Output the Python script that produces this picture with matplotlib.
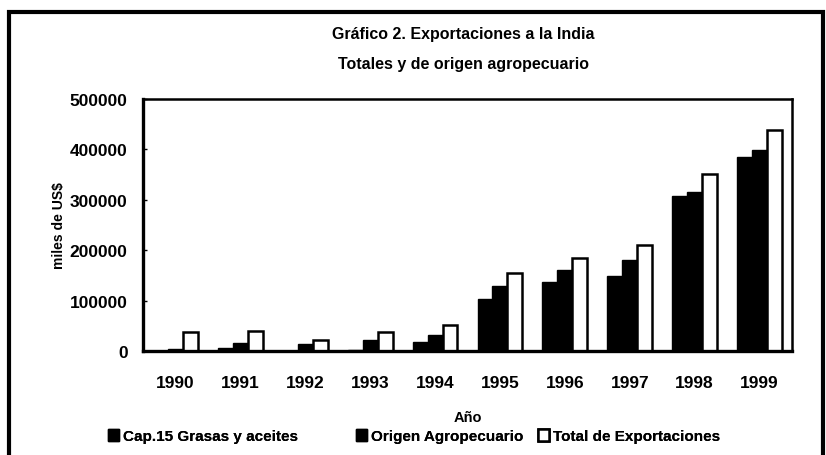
import numpy as np
import matplotlib.pyplot as plt
from matplotlib.patches import Rectangle, Patch

plt.rcParams['font.family'] = ['Liberation Sans', 'DejaVu Sans']
plt.rcParams['font.weight'] = 'bold'

years = ['1990', '1991', '1992', '1993', '1994', '1995', '1996', '1997', '1998', '1999']
grasas = [500, 5000, 500, 2000, 18000, 104000, 136000, 148000, 307000, 384000]
agro = [4000, 15000, 13000, 22000, 31000, 128000, 161000, 181000, 316000, 399000]
total = [38000, 40000, 21000, 38000, 52000, 155000, 185000, 211000, 351000, 438000]
series_names = ['Cap.15 Grasas y aceites', 'Origen Agropecuario', 'Total de Exportaciones']

fig = plt.figure(figsize=(8.26, 4.56), dpi=100)
ax = fig.add_axes([143 / 826, 1 - 352 / 456, (792 - 143) / 826, (352 - 100) / 456])

x = np.arange(len(years))
w = 0.23
ax.bar(x - w, grasas, w, color='black', edgecolor='black', linewidth=1.0)
ax.bar(x, agro, w, color='black', edgecolor='black', linewidth=1.0)
ax.bar(x + w, total, w, color='white', edgecolor='black', linewidth=1.8)

ax.set_xlim(-0.5, 9.5)
ax.set_ylim(0, 500000)
ax.set_yticks(range(0, 500001, 100000))
ax.set_yticklabels([str(v) for v in range(0, 500001, 100000)])
ax.set_xticks(x)
ax.set_xticklabels(years)
ax.tick_params(axis='x', length=0, pad=17, labelsize=12.5)
ax.tick_params(axis='y', length=3, direction='in', pad=11, labelsize=12.5, width=1)

for side in ['left', 'bottom']:
    ax.spines[side].set_linewidth(2.4)
for side in ['top', 'right']:
    ax.spines[side].set_linewidth(1.8)

ax.set_ylabel('miles de US$', fontsize=10, fontweight='bold', labelpad=3)
ax.set_xlabel('Año', fontsize=10.5, fontweight='bold', labelpad=15)

fig.text(463 / 826, 1 - 35 / 456, 'Gráfico 2. Exportaciones a la India',
         ha='center', va='center', fontsize=11.5, fontweight='bold')
fig.text(463 / 826, 1 - 65 / 456, 'Totales y de origen agropecuario',
         ha='center', va='center', fontsize=11.5, fontweight='bold')

# legend entries placed one by one
leg_x = [108, 356, 538]
styles = [dict(facecolor='black', edgecolor='black'),
          dict(facecolor='black', edgecolor='black'),
          dict(facecolor='white', edgecolor='black', linewidth=1.8)]
for name, lx, st in zip(series_names, leg_x, styles):
    lg = fig.legend(handles=[Patch(**st, label=name)], loc='center left',
                    bbox_to_anchor=(lx / 826, 1 - 437 / 456), frameon=False,
                    borderpad=0, borderaxespad=0, handlelength=0.7, handleheight=0.85,
                    handletextpad=0.25, prop={'size': 11, 'weight': 'bold'})
    fig.add_artist(lg)

# outer frame of the scanned page
fig.add_artist(Rectangle((9 / 826, -0.1), (823 - 9) / 826, 1.1 - 13 / 456,
                         transform=fig.transFigure, fill=False,
                         edgecolor='black', linewidth=3))

fig.savefig('out.png', dpi=100)
